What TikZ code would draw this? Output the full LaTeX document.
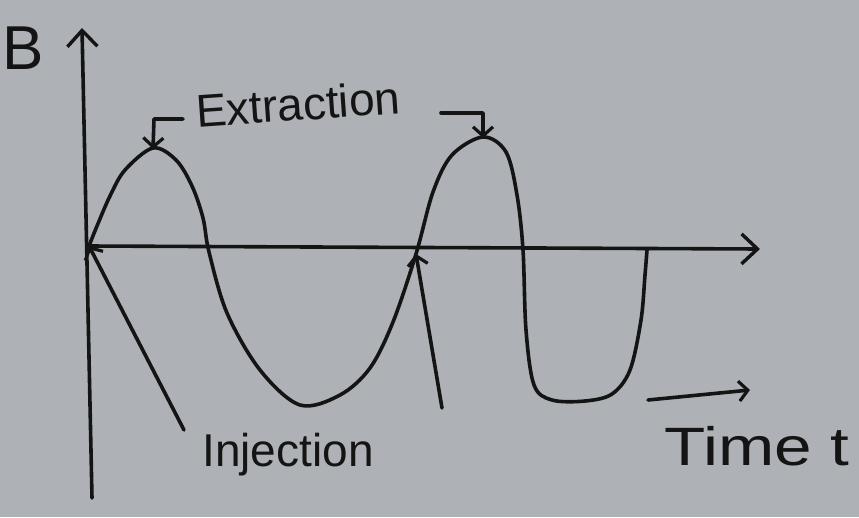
\documentclass[tikz,border=0pt]{standalone}
\usepackage{fontspec}
\setmainfont{Liberation Sans}
\usetikzlibrary{arrows.meta}
\definecolor{board}{HTML}{AEB2B6}
\definecolor{ink}{HTML}{141414}
\tikzset{
  pen/.style={draw=ink, line width=3.6pt, line cap=round, line join=round},
  openhead/.style={-{Straight Barb[length=16pt,width=30pt,line width=3.4pt]}},
  smallhead/.style={-{Straight Barb[length=9pt,width=20pt,line width=3.2pt]}},
  lbl/.style={text=ink, inner sep=0pt, font=\fontsize{40}{40}\selectfont},
}
\begin{document}
\begin{tikzpicture}[x=1pt,y=-1pt]
\fill[board] (0,0) rectangle (859,517);
\useasboundingbox (0,0) rectangle (859,517);
% key points
\coordinate (O) at (89,246);
\coordinate (ytop) at (82,28);
\coordinate (ybot) at (92,498);
\coordinate (xend) at (760,249);
\coordinate (peak1) at (153,149);
\coordinate (peak2) at (483,138);
\coordinate (cross2) at (416,254);
% axes
\draw[pen, openhead] (ybot) -- (ytop);
\draw[pen, openhead] (O) -- (xend);
\node[lbl, font=\fontsize{62}{62}\selectfont] (B) at (23,48) {B};
% curve
\draw[pen] plot[smooth, tension=0.55] coordinates {
 (89,246) (97,226) (110,196) (125,170) (153,148) (176,160) (192,186)
 (203,218) (209,252) (227,313) (260,370) (300,405) (340,395) (370,368) (393,322)
 (416,254) (433,192) (452,155) (483,137) (506,152) (517,195) (523,250)
 (526,330) (534,385) (552,400) (585,401) (612,394) (630,370) (641,320) (645,275) (647,250)};
% extraction
\node[lbl, rotate=4, font=\fontsize{46}{46}\selectfont] (ext) at (298,104) {Extraction};
\coordinate (e1) at (183,119);
\coordinate (e2) at (441,113);
\draw[pen, smallhead] (e1) -- (154,119) -- (peak1);
\draw[pen, smallhead] (e2) -- (483,113) -- (peak2);
% injection
\node[lbl, font=\fontsize{46}{46}\selectfont] (inj) at (288,455) {Injection};
\coordinate (i1) at (184,430);
\coordinate (i2) at (442,408);
\draw[pen, smallhead] (i1) -- (O);
\draw[pen, smallhead] (i2) -- (cross2);
% time
\coordinate (t1) at (648,400);
\coordinate (t2) at (750,390);
\draw[pen, smallhead] (t1) -- (t2);
\node[lbl, font=\fontsize{54}{54}\selectfont, xscale=1.25] (time) at (757,446) {Time t};
\end{tikzpicture}
\end{document}
